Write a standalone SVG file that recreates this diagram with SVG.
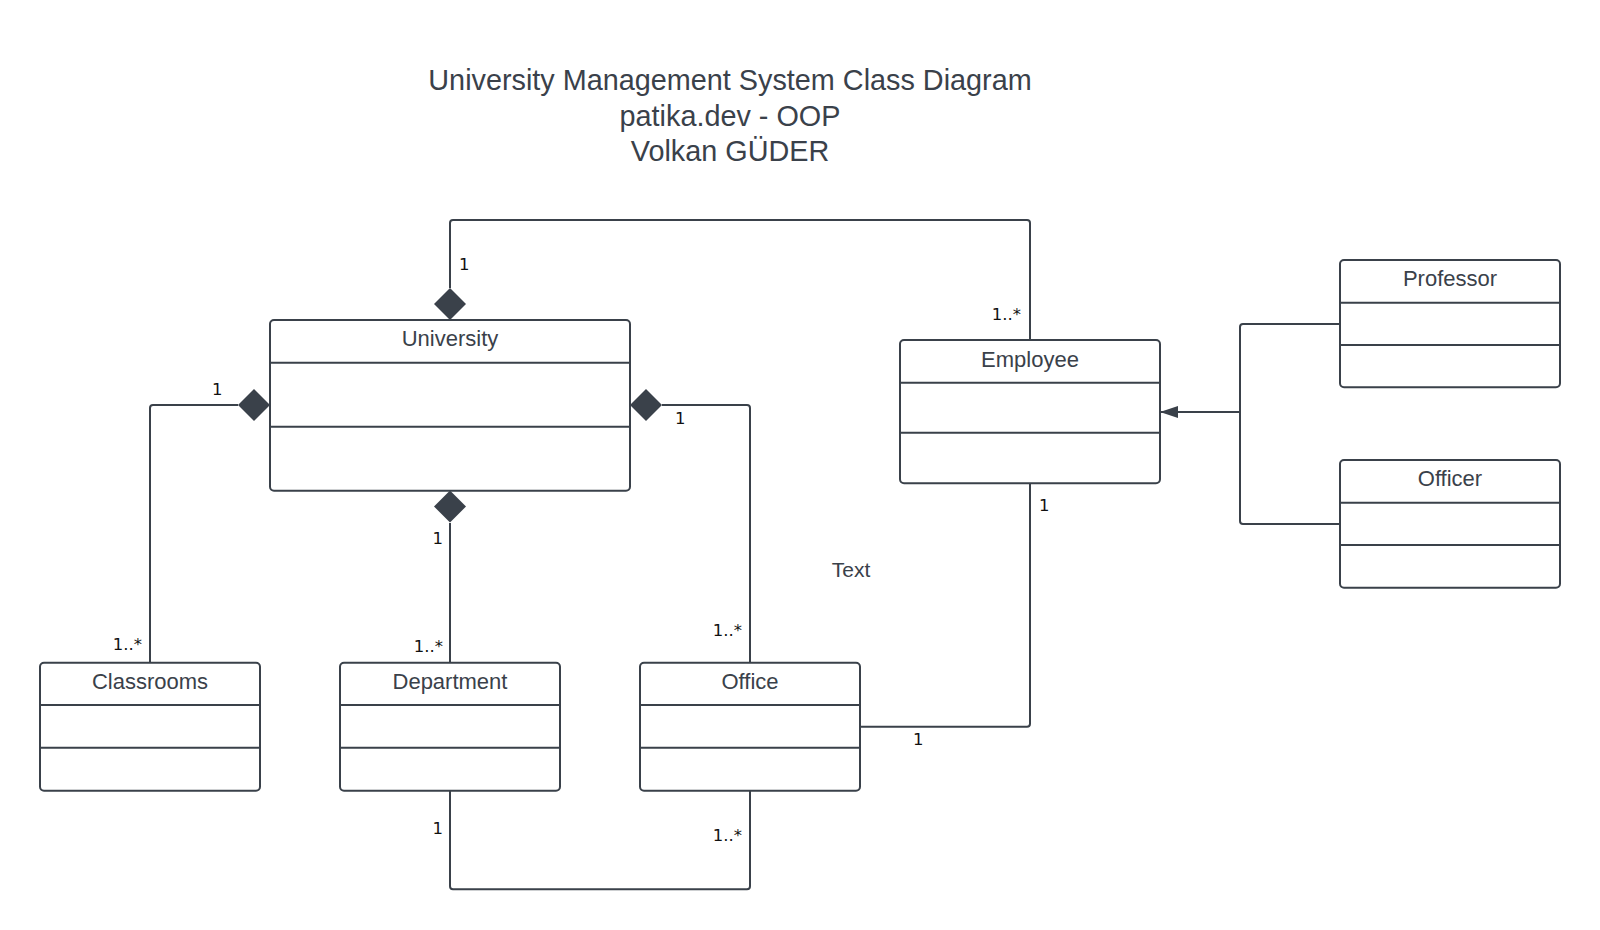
<svg xmlns="http://www.w3.org/2000/svg" xmlns:xlink="http://www.w3.org/1999/xlink" width="1600" height="930" viewBox="0 0 1600 930">
<style>
.box{fill:#ffffff;stroke:#3a414a;stroke-width:2}
.div{stroke:#3a414a;stroke-width:2;fill:none}
.name{font-family:"Liberation Sans",Arial,sans-serif;font-size:22px;fill:#3a414a;text-anchor:middle}
.title{font-family:"Liberation Sans",Arial,sans-serif;font-size:28.8px;fill:#3a414a;text-anchor:middle}
.conn{fill:none;stroke:#3a414a;stroke-width:2;stroke-linejoin:round}
.dia{fill:#3a414a}
.m{font-family:"DejaVu Sans",sans-serif;font-size:16.5px;fill:#111111}
.e{text-anchor:end}
</style>
<defs>
<path id="diamond" d="M0,-16 L16,0 L0,16 L-16,0 Z"/>
<marker id="arr" markerWidth="20" markerHeight="14" refX="18" refY="6" orient="auto" markerUnits="userSpaceOnUse">
<path d="M0,0 L18,6 L0,12 Z" fill="#3a414a"/>
</marker>
</defs>
<rect width="1600" height="930" fill="#ffffff"/>

<g id="title">
<text class="title" x="730" y="90">University Management System Class Diagram</text>
<text class="title" x="730" y="125.5">patika.dev - OOP</text>
<text class="title" x="730" y="161">Volkan GÜDER</text>
</g>

<g id="connectors">
<path class="conn" d="M450,288 V223 Q450,220 453,220 H1027 Q1030,220 1030,223 V340"/>
<path class="conn" d="M150,662.7 V408 Q150,405 153,405 H238"/>
<path class="conn" d="M662,405 H747 Q750,405 750,408 V662.7"/>
<path class="conn" d="M450,523 V662.7"/>
<path class="conn" d="M450,790.7 V886.3 Q450,889.3 453,889.3 H747 Q750,889.3 750,886.3 V790.7"/>
<path class="conn" d="M860,726.7 H1027 Q1030,726.7 1030,723.7 V483.3"/>
<path class="conn" d="M1340,324 H1243 Q1240,324 1240,327 V521 Q1240,524 1243,524 H1340"/>
<path class="conn" d="M1240,412 H1160" marker-end="url(#arr)"/>
<use href="#diamond" class="dia" x="450" y="304"/>
<use href="#diamond" class="dia" x="254" y="405"/>
<use href="#diamond" class="dia" x="646" y="405"/>
<use href="#diamond" class="dia" x="450" y="506.5"/>
</g>

<g id="labels">
<text class="m" x="459" y="270">1</text>
<text class="m e" x="1021" y="319.5">1..*</text>
<text class="m" x="212" y="394.5">1</text>
<text class="m e" x="142" y="649.5">1..*</text>
<text class="m" x="675" y="423.5">1</text>
<text class="m" x="432.5" y="544">1</text>
<text class="m e" x="443" y="651.5">1..*</text>
<text class="m e" x="742" y="636">1..*</text>
<text class="m" x="432.5" y="834">1</text>
<text class="m e" x="742" y="840.5">1..*</text>
<text class="m" x="1039" y="511">1</text>
<text class="m" x="913" y="744.5">1</text>
<text class="name" x="851" y="576.5" style="font-size:21px">Text</text>
</g>

<g id="University">
<rect class="box" x="270" y="320" width="360" height="170.7" rx="4"/>
<path class="div" d="M270,362.7 H630 M270,426.7 H630"/>
<text class="name" x="450" y="346">University</text>
</g>

<g id="Employee">
<rect class="box" x="900" y="340" width="260" height="143.3" rx="4"/>
<path class="div" d="M900,382.7 H1160 M900,432.7 H1160"/>
<text class="name" x="1030" y="366.5">Employee</text>
</g>

<g id="Professor">
<rect class="box" x="1340" y="260" width="220" height="127.3" rx="4"/>
<path class="div" d="M1340,302.7 H1560 M1340,345 H1560"/>
<text class="name" x="1450" y="286">Professor</text>
</g>

<g id="Officer">
<rect class="box" x="1340" y="460" width="220" height="127.7" rx="4"/>
<path class="div" d="M1340,502.7 H1560 M1340,545 H1560"/>
<text class="name" x="1450" y="486">Officer</text>
</g>

<g id="Classrooms">
<rect class="box" x="40" y="662.7" width="220" height="128" rx="4"/>
<path class="div" d="M40,705 H260 M40,747.7 H260"/>
<text class="name" x="150" y="688.7">Classrooms</text>
</g>

<g id="Department">
<rect class="box" x="340" y="662.7" width="220" height="128" rx="4"/>
<path class="div" d="M340,705 H560 M340,747.7 H560"/>
<text class="name" x="450" y="688.7">Department</text>
</g>

<g id="Office">
<rect class="box" x="640" y="662.7" width="220" height="128" rx="4"/>
<path class="div" d="M640,705 H860 M640,747.7 H860"/>
<text class="name" x="750" y="688.7">Office</text>
</g>
</svg>
